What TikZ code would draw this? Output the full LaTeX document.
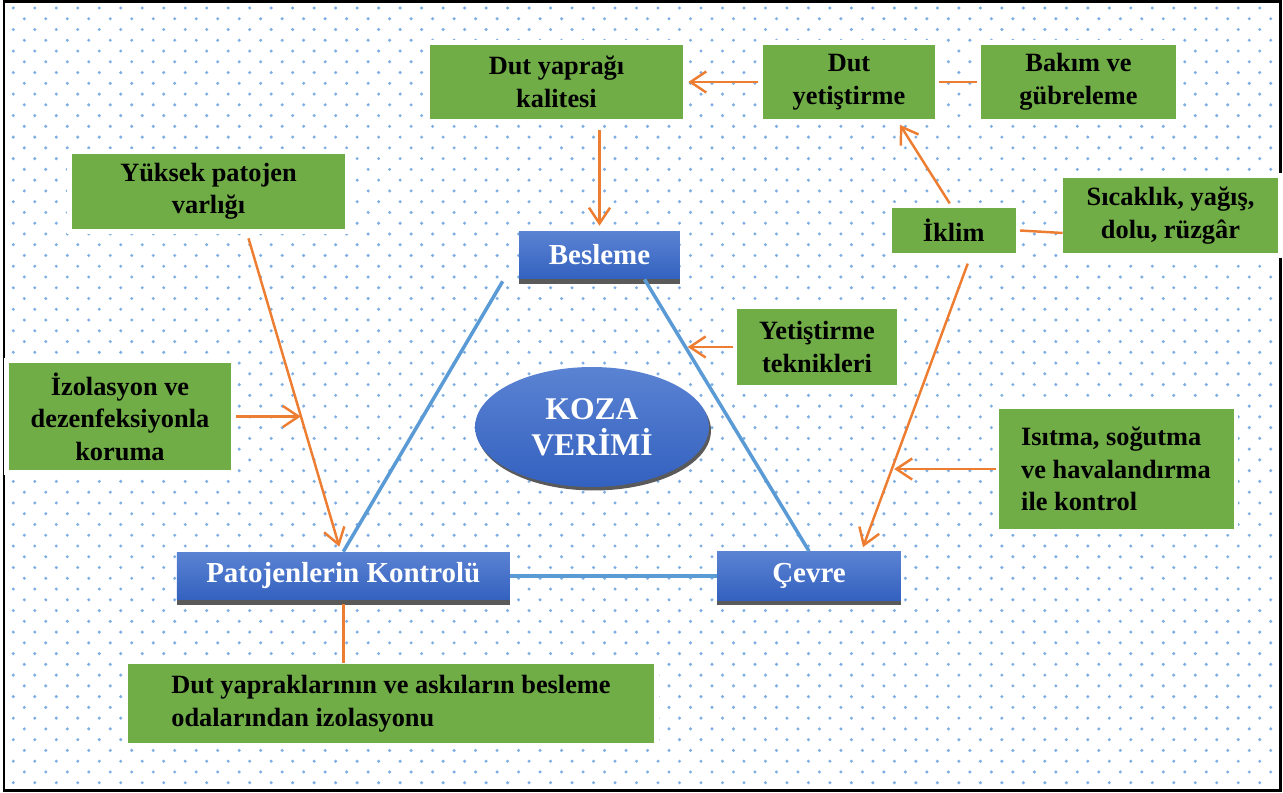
\documentclass[tikz,border=0pt]{standalone}
\usepackage{fontspec}
\setmainfont{Liberation Serif}
\usetikzlibrary{arrows.meta, shadows, calc, shapes.geometric}
\definecolor{leaf-green}{HTML}{70AD47}
\definecolor{box-blue-top}{HTML}{5B83D3}
\definecolor{box-blue-bot}{HTML}{3361BF}
\definecolor{link-orange}{HTML}{ED7D31}
\definecolor{tri-blue}{HTML}{5B9BD5}
\definecolor{dot-blue}{HTML}{7EAEE2}
\definecolor{shade-gray}{HTML}{5A5A5A}

\begin{document}
\begin{tikzpicture}[x=0.02cm, y=-0.02cm,
    greenbox/.style={fill=leaf-green, preaction={draw=white, line width=0.2cm},
      inner sep=0pt, align=center, font=\fontsize{15}{18.5}\selectfont\bfseries},
    bluebox/.style={top color=box-blue-top, bottom color=box-blue-bot, inner sep=0pt,
      text=white, font=\fontsize{16.5}{19}\selectfont\bfseries,
      drop shadow={shadow xshift=0cm, shadow yshift=-0.1cm, fill=shade-gray, opacity=1}},
    koza/.style={ellipse, top color=box-blue-top, bottom color=box-blue-bot, inner sep=0pt,
      minimum width=4.68cm, minimum height=2.4cm, text=white, align=center,
      font=\fontsize{18}{20.5}\selectfont\bfseries,
      drop shadow={shadow xshift=0.04cm, shadow yshift=-0.07cm, fill=shade-gray, opacity=1}},
    link/.style={draw=link-orange, line width=1.4pt, -{Straight Barb[length=9pt, width=12pt]}},
    plainlink/.style={draw=link-orange, line width=1.4pt},
    tri/.style={draw=tri-blue, line width=2pt}]
    \useasboundingbox (0,0) rectangle (1283,793);
    % dotted background and frame
    \foreach \r in {0,...,72} {
      \fill[dot-blue] \foreach \c in {0,...,58}
        {({13.3+21.49*\c+11*mod(\r,2)}, {8+10.76*\r}) circle[radius=1.7]};
    }
    \draw[line width=0.06cm] (4,2) rectangle (1280,790);

    \node[greenbox, minimum width=5.06cm, minimum height=1.5cm] (kalite) at (556.5,82) {Dut yaprağı\\kalitesi};
    \node[greenbox, minimum width=3.44cm, minimum height=1.5cm] (yetistirme) at (849,82) {Dut\\yetiştirme};
    \node[greenbox, minimum width=3.9cm, minimum height=1.5cm] (bakim) at (1078.5,82) {Bakım ve\\gübreleme};
    \node[greenbox, minimum width=5.46cm, minimum height=1.5cm] (patojen) at (208.5,191.5) {Yüksek patojen\\varlığı};
    \node[greenbox, minimum width=2.48cm, minimum height=0.91cm] (iklim) at (953.7,230.5) {İklim};
    \node[greenbox, minimum width=4.3cm, minimum height=1.52cm] (sicaklik) at (1170.5,215.5) {Sıcaklık, yağış,\\dolu, rüzgâr};
    \node[greenbox, minimum width=3.2cm, minimum height=1.52cm] (teknik) at (817,347) {Yetiştirme\\teknikleri};
    \node[greenbox, minimum width=4.46cm, minimum height=2.16cm] (izolasyon) at (120,416.5) {İzolasyon ve\\dezenfeksiyonla\\koruma};
    \node[greenbox, minimum width=4.7cm, minimum height=2.4cm, align=left] (isitma) at (1116,469) {Isıtma, soğutma\\ve havalandırma\\ile kontrol};
    \node[greenbox, minimum width=10.52cm, minimum height=1.6cm, align=left] (askilar) at (391,703.5) {Dut yapraklarının ve askıların besleme\\odalarından izolasyonu};

    \node[bluebox, minimum width=3.22cm, minimum height=0.96cm] (besleme) at (599.5,255) {Besleme};
    \node[bluebox, minimum width=6.66cm, minimum height=0.96cm] (pkontrol) at (343.3,576) {Patojenlerin Kontrolü};
    \node[bluebox, minimum width=3.68cm, minimum height=0.98cm] (cevre) at (809,576) {Çevre};
    \node[koza] (verim) at (592,427) {KOZA\\VERİMİ};

    % triangle
    \draw[tri] ($(besleme.south west)+(-16,2)$) -- (pkontrol.north);
    \draw[tri] ($(besleme.south)+(45,0)$) -- (cevre.north);
    \draw[tri] (pkontrol.east) -- (cevre.west);

    \draw[link, shorten <=2.8pt, shorten >=2.8pt] (yetistirme.west) -- (kalite.east);
    \draw[plainlink, shorten <=2pt, shorten >=2pt] (bakim.west) -- (yetistirme.east);
    \draw[link, shorten <=0.2cm, shorten >=0.1cm] (besleme.north |- kalite.south) -- (besleme.north);
    \draw[link] ($(iklim.north)+(-4,-4)$) -- ($(yetistirme.south)+(51,5)$);
    \draw[plainlink] ($(iklim.east)+(4,0)$) -- ($(sicaklik.west)+(0,17.5)$);
    \draw[link] ($(iklim.south)+(14,10)$) -- ($(cevre.north)+(54,-4)$);
    \draw[link] ($(teknik.west)+(-4,0)$) -- ($(teknik.west)+(-49,0)$);
    \draw[link] ($(isitma.west)+(-2,0)$) -- ($(isitma.west)+(-104,0)$);
    \draw[link] ($(patojen.south)+(40,9)$) -- ($(pkontrol.north)+(-4,-5)$);
    \draw[link] ($(izolasyon.east)+(4,0)$) -- ($(izolasyon.east)+(69,0)$);
    \draw[plainlink] ($(pkontrol.south)+(0,4)$) -- (pkontrol.south |- askilar.north);
  \end{tikzpicture}
\end{document}
